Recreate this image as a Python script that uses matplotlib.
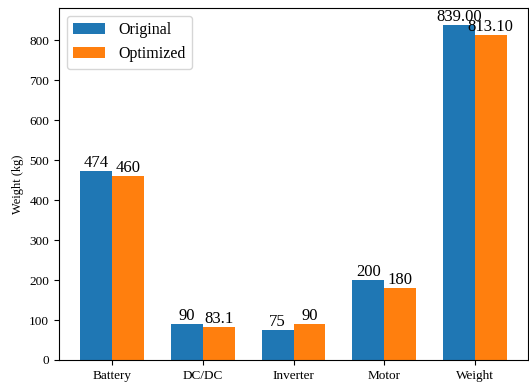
import numpy as np
import matplotlib.pyplot as plt

plt.rcParams['font.family'] = ['Liberation Serif', 'DejaVu Serif']

categories = ['Battery', 'DC/DC', 'Inverter', 'Motor', 'Weight']
original = [474, 90, 75, 200, 839.00]
optimized = [460, 83.1, 90, 180, 813.10]
original_labels = ['474', '90', '75', '200', '839.00']
optimized_labels = ['460', '83.1', '90', '180', '813.10']

fig = plt.figure(figsize=(5.29, 3.85), dpi=100)
ax = fig.add_axes([59 / 529, 25 / 385, 469 / 529, 352 / 385])

x = np.arange(len(categories))
width = 0.35
r1 = ax.bar(x - width / 2, original, width, label='Original', color='#1f77b4')
r2 = ax.bar(x + width / 2, optimized, width, label='Optimized', color='#ff7f0e')

# same as the source: the two weight labels touch a little
ax.bar_label(r1, labels=original_labels, fontsize=12)
ax.bar_label(r2, labels=optimized_labels, fontsize=12)

ax.set_ylabel('Weight (kg)', fontsize=9)
ax.set_xticks(x)
ax.set_xticklabels(categories, fontsize=9.5)
ax.tick_params(axis='y', labelsize=9.5)
ax.legend(loc='upper left', fontsize=11.5)

fig.savefig('out.png', dpi=100)
